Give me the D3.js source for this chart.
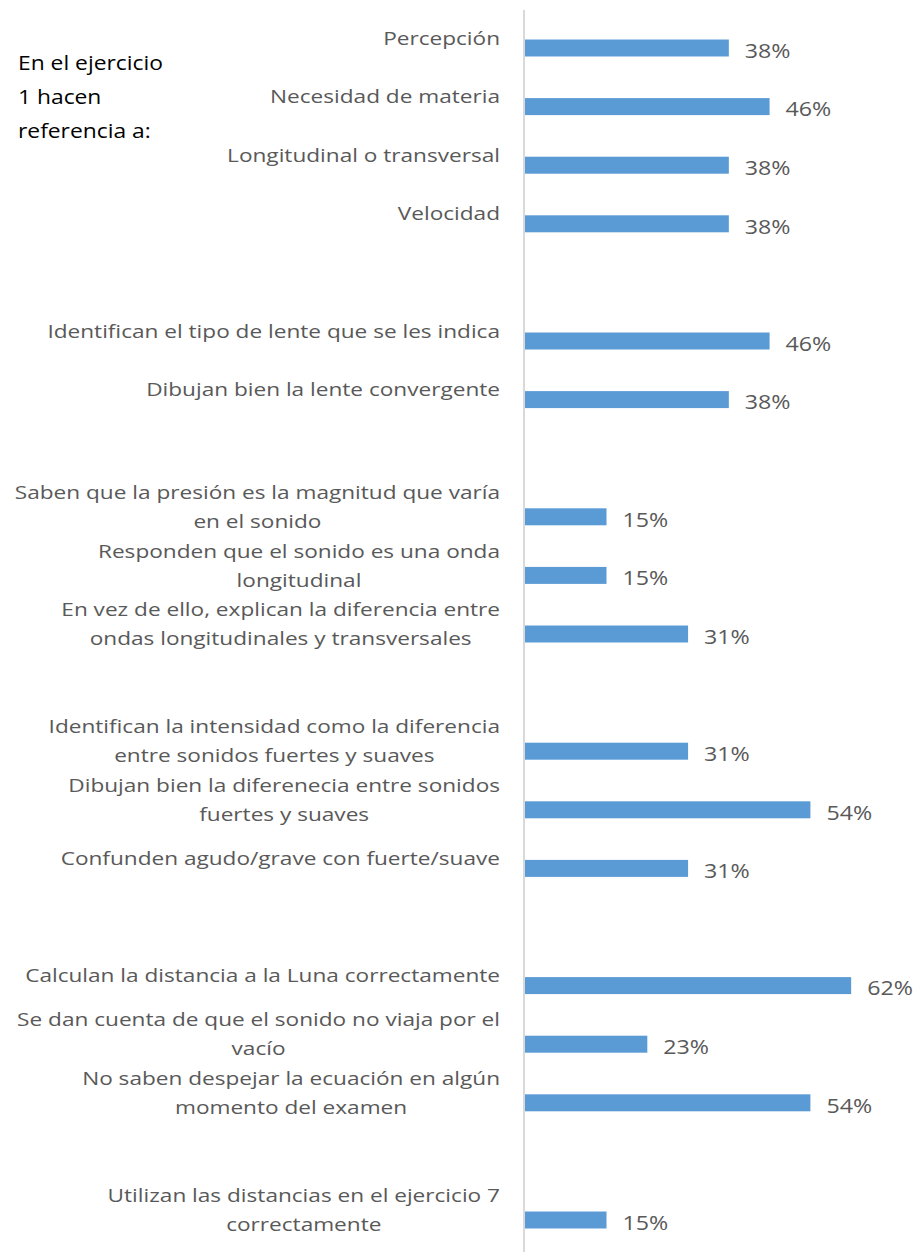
<!DOCTYPE html>
<html>
<head>
<meta charset="utf-8">
<script src="https://cdn.jsdelivr.net/npm/d3@7"></script>
<style>
  body { margin: 0; background: #fff; }
  svg { display: block; }
</style>
</head>
<body>
<div class="chart"></div>
<script>
// categories (null = empty gap row), each label already split in lines
let categories = [
  ["Percepción"],
  ["Necesidad de materia"],
  ["Longitudinal o transversal"],
  ["Velocidad"],
  null,
  ["Identifican el tipo de lente que se les indica"],
  ["Dibujan bien la lente convergente"],
  null,
  ["Saben que la presión es la magnitud que varía", "en el sonido"],
  ["Responden que el sonido es una onda", "longitudinal"],
  ["En vez de ello, explican la diferencia entre", "ondas longitudinales y transversales"],
  null,
  ["Identifican la intensidad como la diferencia", "entre sonidos fuertes y suaves"],
  ["Dibujan bien la diferenecia entre sonidos", "fuertes y suaves"],
  ["Confunden agudo/grave con fuerte/suave"],
  null,
  ["Calculan la distancia a la Luna correctamente"],
  ["Se dan cuenta de que el sonido no viaja por el", "vacío"],
  ["No saben despejar la ecuación en algún", "momento del examen"],
  null,
  ["Utilizan las distancias en el ejercicio 7", "correctamente"]
];
let values = [
  0.3846, 0.4615, 0.3846, 0.3846, null,
  0.4615, 0.3846, null,
  0.1538, 0.1538, 0.3077, null,
  0.3077, 0.5385, 0.3077, null,
  0.6154, 0.2308, 0.5385, null,
  0.1538
];
let titleLines = ["En el ejercicio", "1 hacen", "referencia a:"];

let width = 918, height = 1252;
let axisX = 525;
let font = "Open Sans, sans-serif";
let sx = 1.19; // text in the picture is wide

let svg = d3.select(".chart").append("svg")
  .attr("width", width)
  .attr("height", height);

let rows = categories.map((c, i) => ({ label: c, value: values[i], i: i }));

let y = d3.scaleBand()
  .domain(rows.map(d => d.i))
  .range([18.7, 1249.3])
  .paddingInner(0.71)
  .paddingOuter(0.355);

let x = d3.scaleLinear()
  .domain([0, 1])
  .range([axisX, axisX + 530]);

let filled = rows.filter(d => d.value !== null);

// bars
svg.append("g")
  .selectAll("rect")
  .data(filled)
  .enter().append("rect")
  .attr("x", x(0))
  .attr("y", d => y(d.i))
  .attr("width", d => x(d.value) - x(0))
  .attr("height", y.bandwidth())
  .attr("fill", "#5B9BD5");

// axis line
svg.append("line")
  .attr("x1", axisX - 1).attr("x2", axisX - 1)
  .attr("y1", 10).attr("y2", height)
  .attr("stroke", "#d9d9d9")
  .attr("stroke-width", 2);

// category labels, lines centred inside a right aligned block
let lineH = 29;
let labels = svg.append("g")
  .selectAll("g")
  .data(filled)
  .enter().append("g")
  .attr("transform", d => "translate(500," + (y(d.i) + y.bandwidth() / 2 - 10) + ") scale(" + sx + ",1)");

labels.each(function(d) {
  let n = d.label.length;
  let t = d3.select(this).append("text")
    .attr("font-family", font)
    .attr("font-size", "19px")
    .attr("fill", "#595959")
    .attr("text-anchor", "middle");
  let spans = t.selectAll("tspan")
    .data(d.label)
    .enter().append("tspan")
    .attr("y", (s, k) => (k - (n - 1) / 2) * lineH)
    .attr("dy", "0.35em")
    .text(s => s);
  let maxW = d3.max(spans.nodes(), s => s.getComputedTextLength());
  spans.attr("x", -maxW / 2);
});

// value labels
svg.append("g")
  .selectAll("text")
  .data(filled)
  .enter().append("text")
  .attr("transform", d => "translate(" + (x(d.value) + 16) + "," + (y(d.i) + y.bandwidth() / 2 + 3) + ") scale(" + sx + ",1)")
  .attr("dy", "0.35em")
  .attr("font-family", font)
  .attr("font-size", "19.5px")
  .attr("fill", "#595959")
  .text(d => d3.format(".0%")(d.value));

// title
svg.append("g")
  .attr("transform", "translate(18,0) scale(1.17,1)")
  .selectAll("text")
  .data(titleLines)
  .enter().append("text")
  .attr("x", 0)
  .attr("y", (t, k) => 63 + k * 34)
  .attr("dy", "0.35em")
  .attr("font-family", font)
  .attr("font-size", "19.5px")
  .attr("fill", "#000")
  .text(t => t);
</script>
</body>
</html>
